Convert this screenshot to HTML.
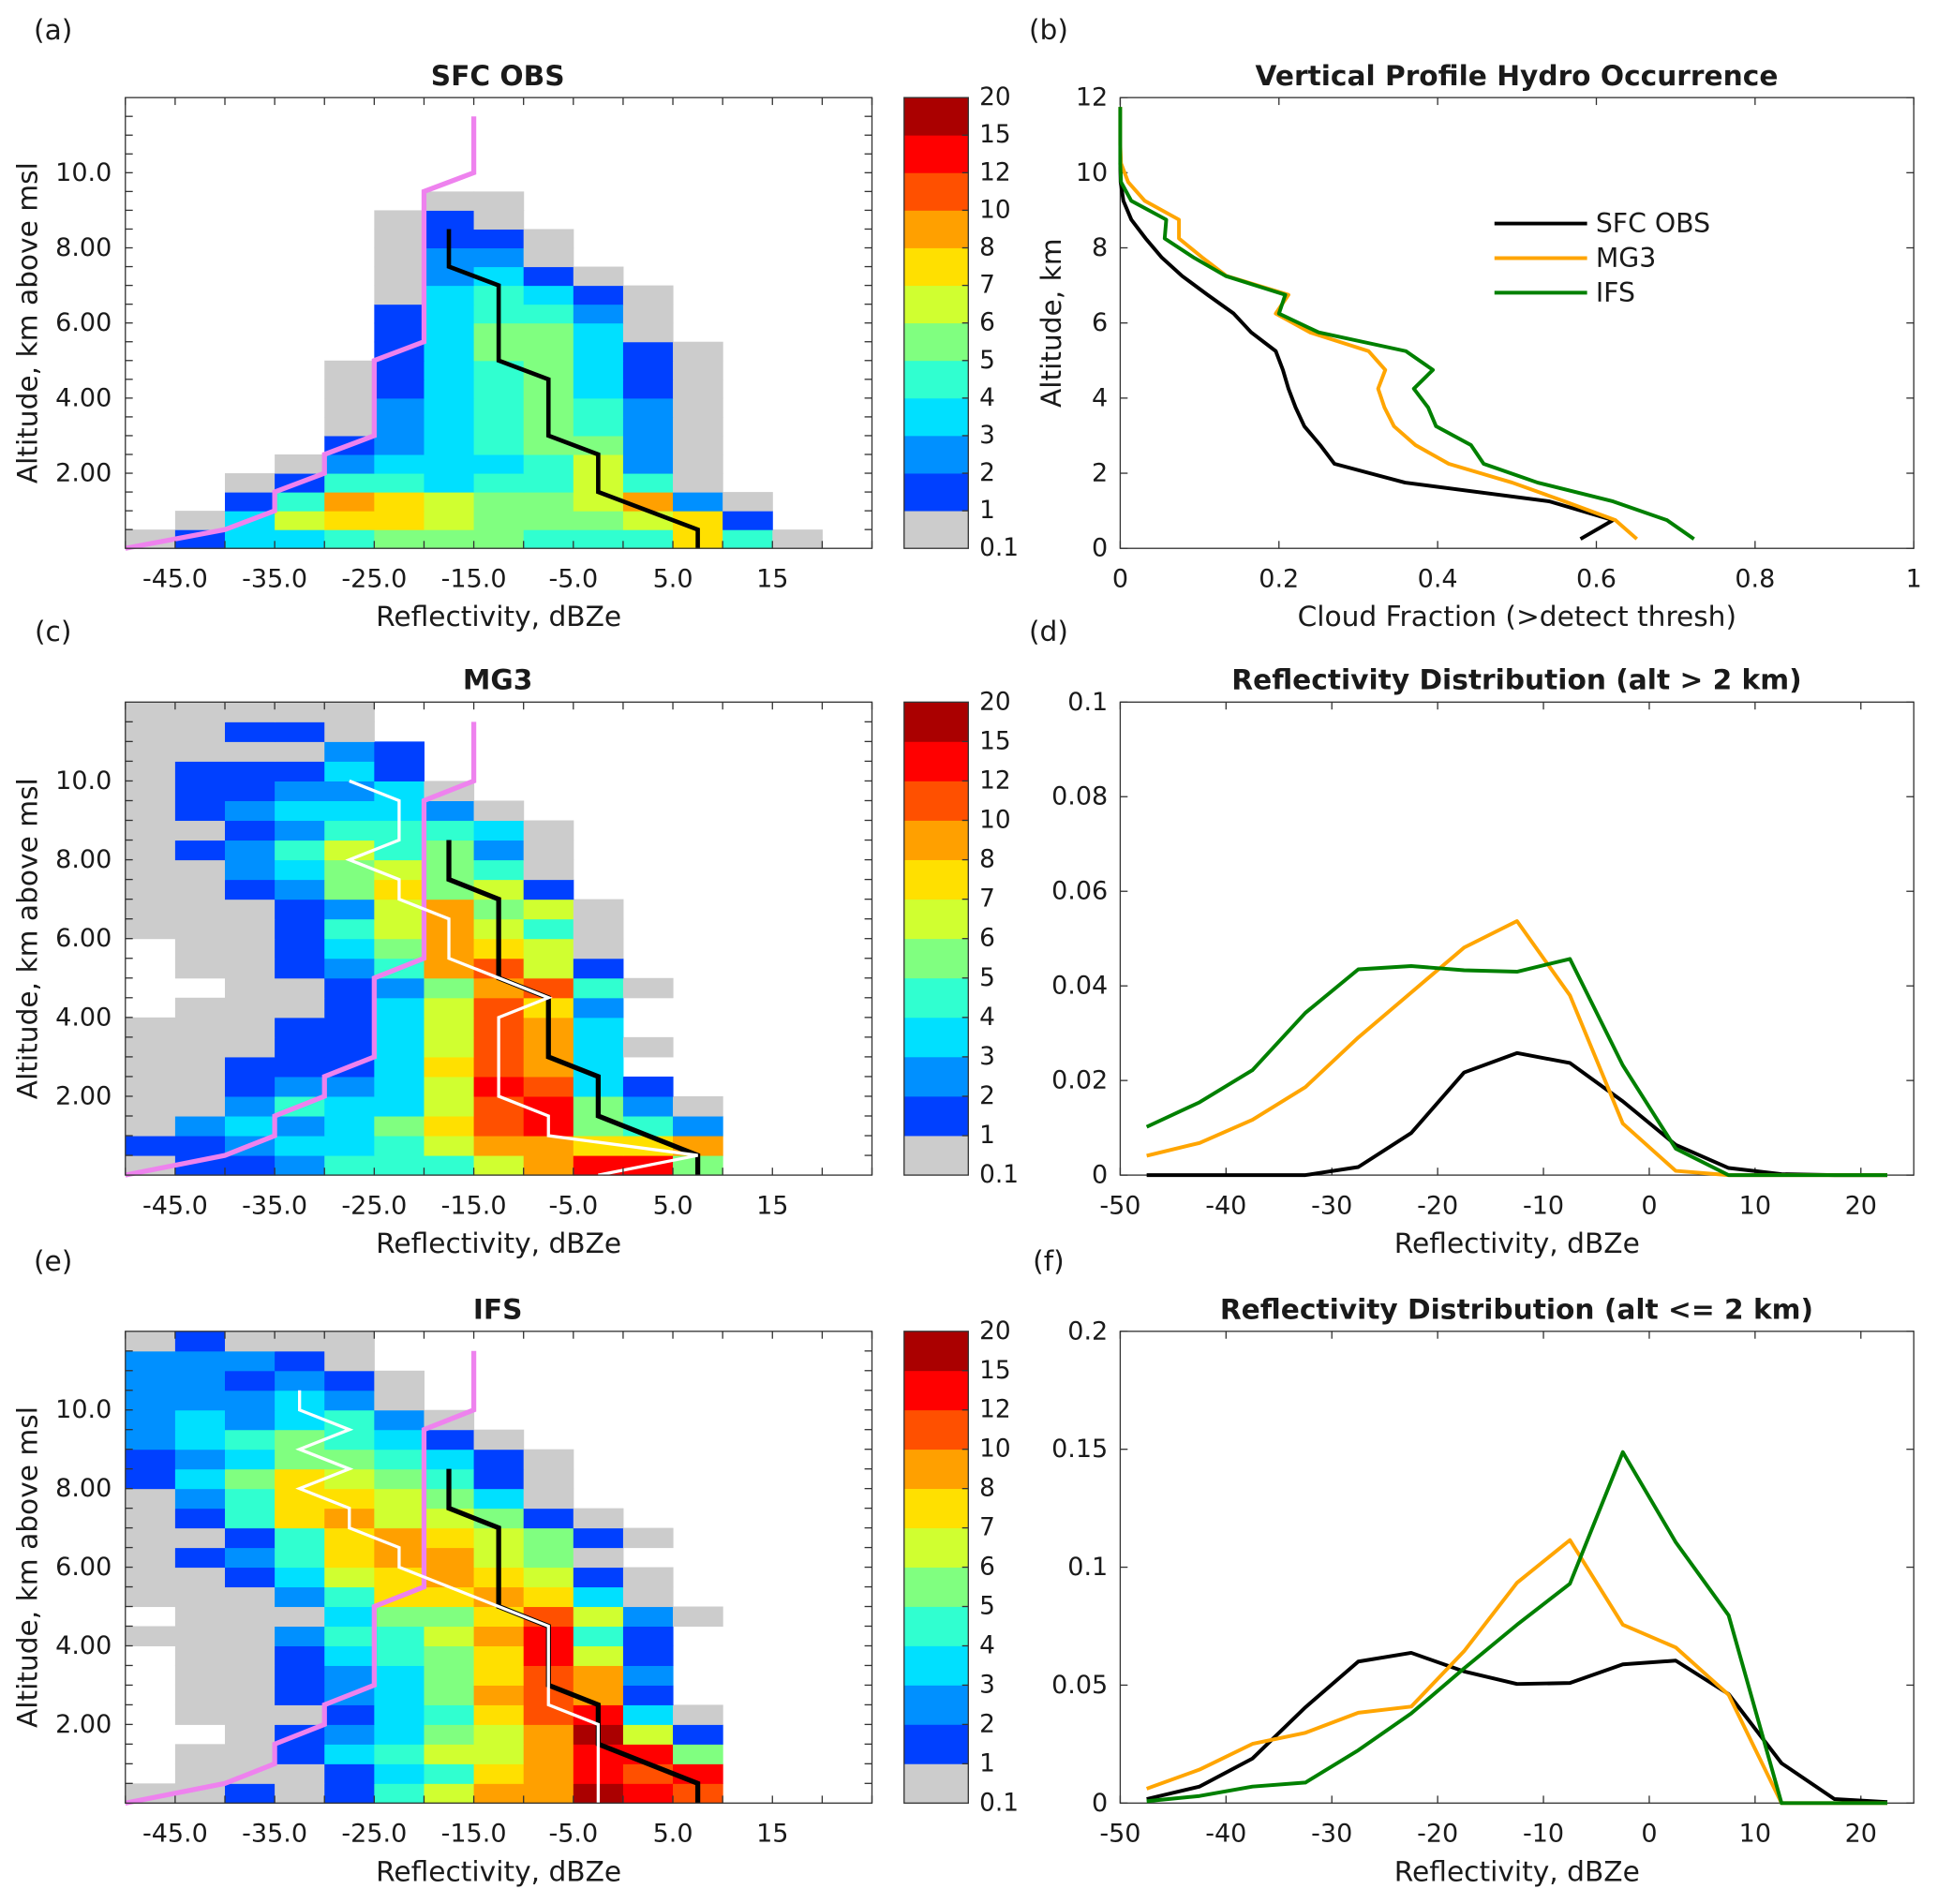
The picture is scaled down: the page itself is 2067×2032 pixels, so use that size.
<!DOCTYPE html>
<html><head><meta charset="utf-8">
<style>
html,body{margin:0;padding:0;background:#fff;}
svg{display:block;}
text{font-family:"DejaVu Sans","Liberation Sans",sans-serif;fill:#1a1a1a;}
</style></head>
<body>
<svg id="fig" xmlns="http://www.w3.org/2000/svg" width="2067" height="2032" viewBox="0 0 1568.3 1541.7"></svg>
<script>
// ---------- Data ----------
const xBinEdges = [-50,-45,-40,-35,-30,-25,-20,-15,-10,-5,0,5,10,15,20,25];
const levelValue = {'0':0,'g':0.5,'1':1.5,'2':2.5,'3':3.5,'4':4.5,'5':5.5,'6':6.5,'7':7.5,'8':9,'9':11,'A':13.5,'B':17};
const cbarEdges = [0.1,1,2,3,4,5,6,7,8,10,12,15,20];
const cbarLabels = ['0.1','1','2','3','4','5','6','7','8','10','12','15','20'];
const cbarColors = ['#cccccc','#0040ff','#0090ff','#00e0ff','#30ffd0','#80ff80','#d0ff30','#ffe000','#ffa000','#ff5000','#ff0000','#aa0000'];

const gridSFC = [
"g133455544474g0","0g3677655567100","001487655682g00","00g14434464g000","000g2333462g000",
"00001234552g000","0000g234542g000","0000g234542g000","0000g134531g000","0000g134531g000",
"00000135531g000","0000013553g0000","0000013442g0000","00000g3431g0000","00000g231g00000",
"00000g22g000000","00000g11g000000","00000g1g0000000","000000gg0000000","000000000000000",
"000000000000000","000000000000000","000000000000000","000000000000000"];
const gridMG3 = [
"g11244468AA5000","112334688778000","g2323579A542000","gg243369A52g000","gg12236A9310000",
"gg1113798300000","ggg1136983g0000","ggg113698300000","0ggg13697200000","00gg125894g0000",
"0gg124896100000","0gg135876g00000","ggg146864g00000","ggg126856g00000","gg1257561000000",
"gg235654g000000","g1246452g000000","gg124443g000000","g123332g0000000","g11223g00000000",
"g11131000000000","gggg21000000000","gg11g0000000000","ggggg0000000000"];
const gridIFS = [
"gg1g14688BA9000","0ggg13478A9A000","0gg134668AA5000","00g123568B61000","0ggg13479A3g000",
"0gg123589810000","0gg123579820000","0gg13457A610000","ggg24468A410000","0ggg3557962g000",
"ggg2477873g0000","gg13678761g0000","g12478865g00000","gg14787651g0000","g14786651g00000",
"g2477653g000000","13576541g000000","12355431g000000","2345431g0000000","232342g00000000",
"22232g000000000","22121g000000000","2221g0000000000","g1ggg0000000000"];

const pinkX = [-50,-40,-35,-35,-30,-30,-25,-25,-20,-20,-15,-15];
const pinkY = [0,0.5,1,1.5,2,2.5,3,5,5.5,9.5,10,11.5];
const obsMedX = [-17.5,-17.5,-12.5,-12.5,-7.5,-7.5,-2.5,-2.5,7.5,7.5];
const obsMedY = [8.5,7.5,7,5,4.5,3,2.5,1.5,0.5,0];
const mg3MedX = [-27.5,-22.5,-22.5,-27.5,-22.5,-22.5,-17.5,-17.5,-7.5,-12.5,-12.5,-7.5,-7.5,7.5,-2.5];
const mg3MedY = [10,9.5,8.5,8,7.5,7,6.5,5.5,4.5,4,2,1.5,1,0.5,0];
const ifsMedX = [-32.5,-32.5,-27.5,-32.5,-27.5,-32.5,-27.5,-27.5,-22.5,-22.5,-7.5,-7.5,-2.5,-2.5];
const ifsMedY = [10.5,10,9.5,9,8.5,8,7.5,7,6.5,6,4.5,2.5,2,0];

const altObs = [0.25,0.75,1.25,1.75,2.25,2.75,3.25,3.75,4.25,4.75,5.25,5.75,6.25,6.75,7.25,7.75,8.25,8.75,9.25,9.75,10.25];
const cfObs  = [0.58,0.621,0.541,0.359,0.27,0.252,0.232,0.221,0.212,0.205,0.196,0.165,0.143,0.11,0.078,0.052,0.032,0.014,0.004,0.0005,0];
const altMod = [0.25,0.75,1.25,1.75,2.25,2.75,3.25,3.75,4.25,4.75,5.25,5.75,6.25,6.75,7.25,7.75,8.25,8.75,9.25,9.75,10.25,10.75,11.25,11.75];
const cfMG3  = [0.651,0.624,0.56,0.494,0.414,0.372,0.345,0.333,0.325,0.334,0.313,0.239,0.196,0.212,0.134,0.103,0.074,0.074,0.031,0.01,0.001,0,0,0];
const cfIFS  = [0.723,0.689,0.621,0.526,0.458,0.442,0.398,0.388,0.37,0.394,0.36,0.25,0.2,0.208,0.133,0.092,0.056,0.058,0.014,0.001,0,0,0,0];

const dbzCenters = [-47.5,-42.5,-37.5,-32.5,-27.5,-22.5,-17.5,-12.5,-7.5,-2.5,2.5,7.5,12.5,17.5,22.5];
const distHiObs = [0,0,0,0,0.0017,0.0089,0.0217,0.0258,0.0237,0.0156,0.0064,0.0015,0.0002,0,0];
const distHiMG3 = [0.0041,0.0068,0.0117,0.0186,0.0291,0.0386,0.0481,0.0537,0.038,0.0109,0.0009,0,0,0,0];
const distHiIFS = [0.0102,0.0154,0.0222,0.0343,0.0435,0.0442,0.0433,0.043,0.0457,0.0232,0.0056,0,0,0,0];
const distLoObs = [0.0017,0.007,0.0189,0.0406,0.06,0.0637,0.0558,0.0505,0.0509,0.0588,0.0604,0.0462,0.0169,0.0017,0.0004];
const distLoMG3 = [0.0061,0.0142,0.0251,0.0298,0.0383,0.0409,0.0644,0.0934,0.1115,0.0756,0.066,0.0459,0,0,0];
const distLoIFS = [0.0008,0.003,0.007,0.0087,0.0224,0.038,0.0571,0.0756,0.093,0.1488,0.1106,0.0796,0,0,0];

const hmXTicks = [-45,-35,-25,-15,-5,5,15];
const hmXLabels = ['-45.0','-35.0','-25.0','-15.0','-5.0','5.0','15'];
const hmYTicks = [2,4,6,8,10];
const hmYLabels = ['2.00','4.00','6.00','8.00','10.0'];
const bXTicks = [0,0.2,0.4,0.6,0.8,1];
const bXLabels = ['0','0.2','0.4','0.6','0.8','1'];
const bYTicks = [0,2,4,6,8,10,12];
const bYLabels = ['0','2','4','6','8','10','12'];
const dfXTicks = [-50,-40,-30,-20,-10,0,10,20];
const dfXLabels = ['-50','-40','-30','-20','-10','0','10','20'];
const dYTicks = [0,0.02,0.04,0.06,0.08,0.1];
const dYLabels = ['0','0.02','0.04','0.06','0.08','0.1'];
const fYTicks = [0,0.05,0.1,0.15,0.2];
const fYLabels = ['0','0.05','0.1','0.15','0.2'];

// ---------- Drawing ----------
const NS = 'http://www.w3.org/2000/svg';
const svg = document.getElementById('fig');
const TICK_FS = 20.5, AX_FS = 22.5, TITLE_FS = 22.5, CB_FS = 20;
function el(tag, attrs, parent){
  const e = document.createElementNS(NS, tag);
  for (const k in attrs) e.setAttribute(k, attrs[k]);
  (parent||svg).appendChild(e);
  return e;
}
function txt(s, x, y, size, anchor, parent, bold){
  const t = el('text', {x:x, y:y, 'font-size':size, 'text-anchor':anchor||'middle', 'dominant-baseline':'central'}, parent);
  if (bold) t.setAttribute('font-weight','bold');
  t.textContent = s;
  return t;
}
function colorFor(v){
  for (let i=0;i<cbarColors.length;i++){ if (v>=cbarEdges[i] && v<cbarEdges[i+1]) return cbarColors[i]; }
  return null;
}
function linearScale(d0,d1,r0,r1){ return v => r0 + (v-d0)/(d1-d0)*(r1-r0); }

const L1=101.5, R1=706, L2=907, R2=1549.5;
const rows = [[79,444],[568.5,951.5],[1078,1460]];

function heatmapPanel(grid, T, B, name, lines){
  const g = el('g', {});
  
  
  const xs = linearScale(-50,25,L1,R1), ys = linearScale(0,12,B,T);
  for (let r=0;r<grid.length;r++){
    for (let c=0;c<grid[r].length;c++){
      const v = levelValue[grid[r][c]];
      const col = colorFor(v);
      if (!col) continue;
      const x0 = xs(xBinEdges[c]), x1 = xs(xBinEdges[c+1]);
      const y0 = ys((r+1)*0.5), y1 = ys(r*0.5);
      const rc = el('rect', {x:x0, y:y0, width:x1-x0+0.4, height:y1-y0+0.4, fill:col}, g);
      
      
    }
  }
  lines.forEach(ln => {
    const pts = ln.x.map((v,i)=>xs(v)+','+ys(ln.y[i])).join(' ');
    const p = el('polyline', {points:pts, fill:'none', stroke:ln.color, 'stroke-width':ln.w, 'stroke-linejoin':'miter'}, g);
    
    
  });
  const fr = el('rect', {x:L1, y:T, width:R1-L1, height:B-T, fill:'none', stroke:'#333', 'stroke-width':1}, g);
  
  
  for (let v=-50; v<=25; v+=5){
    const x = xs(v);
    el('line', {x1:x,y1:B,x2:x,y2:B-6,stroke:'#333','stroke-width':1}, g);
    el('line', {x1:x,y1:T,x2:x,y2:T+6,stroke:'#333','stroke-width':1}, g);
  }
  for (let k=0.5; k<12; k+=0.5){
    const y = ys(k);
    el('line', {x1:L1,y1:y,x2:L1+6,y2:y,stroke:'#333','stroke-width':1}, g);
    el('line', {x1:R1,y1:y,x2:R1-6,y2:y,stroke:'#333','stroke-width':1}, g);
  }
  hmXTicks.forEach((v,i)=>{
    const t = txt(hmXLabels[i], xs(v), B+25, TICK_FS, 'middle', g);
    
    
  });
  hmYTicks.forEach((v,i)=>{
    const t = txt(hmYLabels[i], L1-11, ys(v), TICK_FS, 'end', g);
    
    
  });
  const xl = txt('Reflectivity, dBZe', (L1+R1)/2, B+55, AX_FS, 'middle', g);
  
  
  const yl = txt('Altitude, km above msl', 0, 0, AX_FS, 'middle', g);
  yl.setAttribute('transform', 'translate(22,'+((T+B)/2)+') rotate(-90)');
  
  
  const cb = el('g', {}, g);
  
  
  const segH = (B-T)/cbarColors.length;
  cbarColors.forEach((c,i)=>{
    el('rect', {x:732, y:B-(i+1)*segH, width:52, height:segH+0.3, fill:c}, cb);
  });
  el('rect', {x:732, y:T, width:52, height:B-T, fill:'none', stroke:'#333','stroke-width':1}, cb);
  cbarLabels.forEach((s,i)=>{
    const y = B - i*segH;
    if (i>0 && i<cbarLabels.length-1) el('line', {x1:784,y1:y,x2:779,y2:y,stroke:'#333','stroke-width':1}, cb);
    const t = txt(s, 793, y, CB_FS, 'start', cb);
    
    
  });
  return {xs, ys};
}

function linePanel(T, B, xd, yd, xT, xL, yT, yL, series, name, xTitle, yTitle, yTitleX){
  const g = el('g', {});
  
  
  const xs = linearScale(xd[0],xd[1],L2,R2), ys = linearScale(yd[0],yd[1],B,T);
  const fr = el('rect', {x:L2, y:T, width:R2-L2, height:B-T, fill:'none', stroke:'#333','stroke-width':1}, g);
  
  
  xT.forEach((v,i)=>{
    const x = xs(v);
    el('line', {x1:x,y1:B,x2:x,y2:B-6,stroke:'#333','stroke-width':1}, g);
    el('line', {x1:x,y1:T,x2:x,y2:T+6,stroke:'#333','stroke-width':1}, g);
    const t = txt(xL[i], x, B+25, TICK_FS, 'middle', g);
    
    
  });
  yT.forEach((v,i)=>{
    const y = ys(v);
    el('line', {x1:L2,y1:y,x2:L2+6,y2:y,stroke:'#333','stroke-width':1}, g);
    el('line', {x1:R2,y1:y,x2:R2-6,y2:y,stroke:'#333','stroke-width':1}, g);
    const t = txt(yL[i], L2-10, y, TICK_FS, 'end', g);
    
    
  });
  series.forEach(s=>{
    const pts = s.x.map((v,i)=>xs(v)+','+ys(s.y[i])).join(' ');
    const p = el('polyline', {points:pts, fill:'none', stroke:s.color, 'stroke-width':3, 'stroke-linejoin':'round'}, g);
    
    
  });
  const xl = txt(xTitle, (L2+R2)/2, B+55, AX_FS, 'middle', g);
  
  
  if (yTitle){
    const yl = txt(yTitle, 0, 0, AX_FS, 'middle', g);
    yl.setAttribute('transform', 'translate('+yTitleX+','+((T+B)/2)+') rotate(-90)');
    
    
  }
  return g;
}

const letters = [['(a)',43,24],['(b)',849,24],['(c)',43,511],['(d)',849,511],['(e)',43,1021],['(f)',849,1021]];
letters.forEach(l=>{
  const t = txt(l[0], l[1], l[2], AX_FS, 'middle');
  
  
});
const titles = [['SFC OBS',403,61],['Vertical Profile Hydro Occurrence',1228,61],['MG3',403,550],
  ['Reflectivity Distribution (alt > 2 km)',1228,550],['IFS',403,1060],['Reflectivity Distribution (alt <= 2 km)',1228,1060]];
titles.forEach(l=>{
  const t = txt(l[0], l[1], l[2], TITLE_FS, 'middle', null, true);
  
  
});

const pinkLine = {x:pinkX, y:pinkY, color:'#ee82ee', w:4, name:'pink-profile-line'};
heatmapPanel(gridSFC, rows[0][0], rows[0][1], 'sfc-obs', [pinkLine, {x:obsMedX,y:obsMedY,color:'#000',w:3.5,name:'obs-median-line'}]);
heatmapPanel(gridMG3, rows[1][0], rows[1][1], 'mg3', [pinkLine, {x:obsMedX,y:obsMedY,color:'#000',w:4,name:'obs-median-line'}, {x:mg3MedX,y:mg3MedY,color:'#fff',w:2.5,name:'mg3-median-line'}]);
heatmapPanel(gridIFS, rows[2][0], rows[2][1], 'ifs', [pinkLine, {x:obsMedX,y:obsMedY,color:'#000',w:4,name:'obs-median-line'}, {x:ifsMedX,y:ifsMedY,color:'#fff',w:2.5,name:'ifs-median-line'}]);

const gb = linePanel(rows[0][0], rows[0][1], [0,1], [0,12], bXTicks, bXLabels, bYTicks, bYLabels, [
  {x:cfObs, y:altObs, color:'#000', name:'sfc-obs-line'},
  {x:cfMG3, y:altMod, color:'#ffa500', name:'mg3-line'},
  {x:cfIFS, y:altMod, color:'#008000', name:'ifs-line'}], 'cloud-fraction', 'Cloud Fraction (>detect thresh)', 'Altitude, km', 851);
const lg = el('g', {}, gb);


[['SFC OBS','#000',181],['MG3','#ffa500',209],['IFS','#008000',237]].forEach(e=>{
  el('line', {x1:1210,y1:e[2],x2:1285,y2:e[2],stroke:e[1],'stroke-width':3}, lg);
  const t = txt(e[0], 1292, e[2], 21.5, 'start', lg);
  
  
});

linePanel(rows[1][0], rows[1][1], [-50,25], [0,0.1], dfXTicks, dfXLabels, dYTicks, dYLabels, [
  {x:dbzCenters, y:distHiObs, color:'#000', name:'sfc-obs-line'},
  {x:dbzCenters, y:distHiMG3, color:'#ffa500', name:'mg3-line'},
  {x:dbzCenters, y:distHiIFS, color:'#008000', name:'ifs-line'}], 'dist-high', 'Reflectivity, dBZe', null, 0);
linePanel(rows[2][0], rows[2][1], [-50,25], [0,0.2], dfXTicks, dfXLabels, fYTicks, fYLabels, [
  {x:dbzCenters, y:distLoObs, color:'#000', name:'sfc-obs-line'},
  {x:dbzCenters, y:distLoMG3, color:'#ffa500', name:'mg3-line'},
  {x:dbzCenters, y:distLoIFS, color:'#008000', name:'ifs-line'}], 'dist-low', 'Reflectivity, dBZe', null, 0);
</script>
</body></html>
